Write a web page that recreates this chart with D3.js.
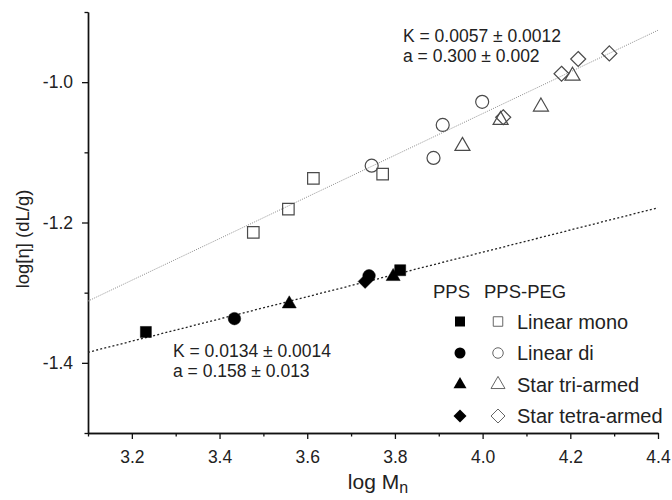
<!DOCTYPE html>
<html>
<head>
<meta charset="utf-8">
<script src="https://cdn.jsdelivr.net/npm/d3@7"></script>
<style>
  body { margin: 0; background: #fff; }
  text { font-family: "Liberation Sans", Arial, sans-serif; fill: #222; }
</style>
</head>
<body>
<script>
const width = 672;
const height = 500;

// PPS (filled markers): [log Mn, log[eta]]
const ppsMono = [[3.232, -1.356], [3.812, -1.268]];
const ppsDi = [[3.434, -1.337], [3.741, -1.276]];
const ppsTri = [[3.559, -1.316], [3.796, -1.277]];
const ppsTetra = [[3.732, -1.284]];

// PPS-PEG (open markers)
const pegMono = [[3.477, -1.214], [3.557, -1.181], [3.614, -1.137], [3.772, -1.131]];
const pegDi = [[3.747, -1.119], [3.888, -1.108], [3.909, -1.061], [3.999, -1.028]];
const pegTri = [[3.954, -1.091], [4.041, -1.054], [4.133, -1.035], [4.205, -0.991]];
const pegTetra = [[4.047, -1.050], [4.180, -0.988], [4.218, -0.967], [4.289, -0.959]];

// fit lines, end points
const pegFit = [[3.1, -1.312], [4.4, -0.926]];
const ppsFit = [[3.1, -1.385], [4.4, -1.179]];

const xMajor = [3.2, 3.4, 3.6, 3.8, 4.0, 4.2, 4.4];
const xMinor = [3.1, 3.3, 3.5, 3.7, 3.9, 4.1, 4.3];
const yMajor = [-1.0, -1.2, -1.4];
const yMinor = [-0.9, -1.1, -1.3, -1.5];

const legendNames = ["Linear mono", "Linear di", "Star tri-armed", "Star tetra-armed"];
const legendShapes = ["square", "circle", "triangle", "diamond"];

let svg = d3.select("body").append("svg")
    .attr("width", width)
    .attr("height", height);

let x = d3.scaleLinear().domain([3.1, 4.4]).range([88, 658]);
let y = d3.scaleLinear().domain([-1.5, -0.9]).range([433, 12]);

//坐标轴
svg.append("g")
    .attr("transform", "translate(0,433)")
    .call(d3.axisBottom(x).tickValues(xMajor).tickSize(6).tickPadding(12)
        .tickSizeOuter(0).tickFormat(d3.format(".1f")));
svg.append("g")
    .attr("transform", "translate(0,433)")
    .call(d3.axisBottom(x).tickValues(xMinor).tickSize(3.5).tickSizeOuter(0).tickFormat(""));

let yAxis = svg.append("g")
    .attr("transform", "translate(88,0)")
    .call(d3.axisLeft(y).tickValues(yMajor).tickSize(6).tickPadding(9)
        .tickSizeOuter(0).tickFormat(d3.format(".1f")));
svg.append("g")
    .attr("transform", "translate(88,0)")
    .call(d3.axisLeft(y).tickValues(yMinor).tickSize(3.5).tickSizeOuter(0).tickFormat(""));

svg.selectAll(".domain").attr("stroke", "#111").attr("stroke-width", 1.4);
svg.selectAll(".tick line").attr("stroke", "#111").attr("stroke-width", 1.3);
svg.selectAll(".tick text")
    .style("font-family", "'Liberation Sans', Arial, sans-serif")
    .style("font-size", "17.5px")
    .attr("fill", "#222");
// 用普通连字符
yAxis.selectAll(".tick text").text(d => d3.format(".1f")(d).replace("−", "-"));

//轴标题
let xt = svg.append("text")
    .attr("x", 378).attr("y", 489)
    .attr("text-anchor", "middle")
    .style("font-size", "21px");
xt.append("tspan").text("log M");
xt.append("tspan").attr("dy", 4).style("font-size", "16px").text("n");

svg.append("text")
    .attr("transform", "translate(29,239) rotate(-90)")
    .attr("text-anchor", "middle")
    .style("font-size", "18.5px")
    .text("log[η] (dL/g)");

//拟合线
let line = d3.line().x(d => x(d[0])).y(d => y(d[1]));
svg.append("path")
    .attr("d", line(pegFit))
    .attr("fill", "none")
    .attr("stroke", "#8a8a8a")
    .attr("stroke-width", 1)
    .attr("stroke-dasharray", "1,1.3");
svg.append("path")
    .attr("d", line(ppsFit))
    .attr("fill", "none")
    .attr("stroke", "#222")
    .attr("stroke-width", 1.3)
    .attr("stroke-dasharray", "2,2.2");

//标记
function shapePath(shape, s) {
    if (shape === "square") return d3.symbol(d3.symbolSquare, s * s)();
    if (shape === "circle") return d3.symbol(d3.symbolCircle, Math.PI * s * s / 4)();
    if (shape === "triangle") return d3.symbol(d3.symbolTriangle, Math.sqrt(3) / 4 * s * s)();
    // 菱形 = 旋转45度的正方形, s 为对角线
    let h = s / 2;
    return `M0,${-h}L${h},0L0,${h}L${-h},0Z`;
}

function drawSet(data, shape, size, filled) {
    svg.append("g").selectAll("path")
        .data(data)
        .enter()
        .append("path")
        .attr("transform", d => `translate(${x(d[0])},${y(d[1])})`)
        .attr("d", shapePath(shape, size))
        .attr("fill", filled ? "#000" : "none")
        .attr("stroke", filled ? "#000" : "#4a4a4a")
        .attr("stroke-width", filled ? 0.5 : 1.2);
}

drawSet(pegMono, "square", 11.5, false);
drawSet(pegDi, "circle", 13, false);
drawSet(pegTri, "triangle", 15, false);
drawSet(pegTetra, "diamond", 15, false);

drawSet(ppsMono, "square", 11, true);
drawSet(ppsDi, "circle", 12.5, true);
drawSet(ppsTri, "triangle", 14, true);
drawSet(ppsTetra, "diamond", 14, true);

//注释
function note(px, py, lines) {
    let t = svg.append("text").style("font-size", "17.5px");
    lines.forEach((s, i) => {
        t.append("tspan").attr("x", px).attr("y", py + i * 19.5).text(s);
    });
}
note(403, 42, ["K = 0.0057 ± 0.0012", "a = 0.300 ± 0.002"]);
note(173, 357, ["K = 0.0134 ± 0.0014", "a = 0.158 ± 0.013"]);

//图例
let legend = svg.append("g");
legend.append("text").attr("x", 433).attr("y", 298).style("font-size", "18.5px").text("PPS");
legend.append("text").attr("x", 484).attr("y", 298).style("font-size", "18.5px").text("PPS-PEG");

let fillSizes = [10, 11, 13, 13];
let openSizes = [9.5, 10.5, 14, 14];
legendNames.forEach((name, i) => {
    let cy = 321.5 + i * 31.5;
    legend.append("path")
        .attr("transform", `translate(460,${cy})`)
        .attr("d", shapePath(legendShapes[i], fillSizes[i]))
        .attr("fill", "#000");
    legend.append("path")
        .attr("transform", `translate(498,${cy})`)
        .attr("d", shapePath(legendShapes[i], openSizes[i]))
        .attr("fill", "none")
        .attr("stroke", "#666")
        .attr("stroke-width", 1);
    legend.append("text")
        .attr("x", 517).attr("y", cy + 7)
        .style("font-size", "20px")
        .text(name);
});
</script>
</body>
</html>
